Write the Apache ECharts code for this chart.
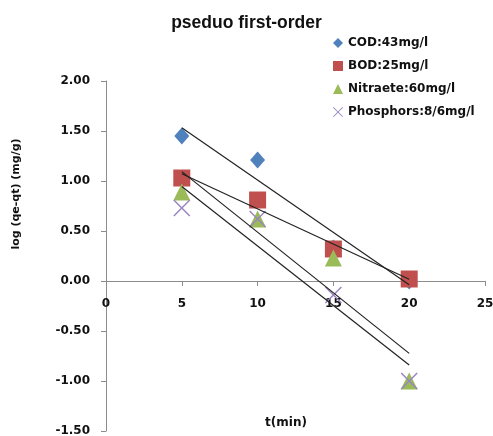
<!DOCTYPE html>
<html>
<head>
<meta charset="utf-8">
<script src="https://cdn.jsdelivr.net/npm/echarts@6/dist/echarts.min.js"></script>
<style>html,body{margin:0;padding:0;background:#fff;}#c{width:493px;height:436px;}</style>
</head>
<body>
<div id="c"></div>
<script>
var times = [5, 10, 15, 20];
var seriesNames = ['COD:43mg/l', 'BOD:25mg/l', 'Nitraete:60mg/l', 'Phosphors:8/6mg/l'];
var codValues = [1.45, 1.21, 0.33, 0.00];
var bodValues = [1.03, 0.81, 0.32, 0.02];
var nitrateValues = [0.89, 0.62, 0.23, -1.00];
var phosValues = [0.73, 0.62, -0.14, -1.00];
var xTicks = [0, 5, 10, 15, 20, 25];
var yTicks = [-1.5, -1.0, -0.5, 0, 0.5, 1.0, 1.5, 2.0];
var titleText = 'pseduo first-order';
var xAxisTitle = 't(min)';
var yAxisTitle = 'log (qe-qt) (mg/g)';

function pairs(vals) { return times.map(function (t, i) { return [t, vals[i]]; }); }
function trend(vals) {
  var n = times.length, mx = 0, my = 0;
  for (var i = 0; i < n; i++) { mx += times[i]; my += vals[i]; }
  mx /= n; my /= n;
  var sxy = 0, sxx = 0;
  for (i = 0; i < n; i++) { sxy += (times[i] - mx) * (vals[i] - my); sxx += (times[i] - mx) * (times[i] - mx); }
  var b = sxy / sxx, a = my - b * mx;
  var x0 = times[0], x1 = times[n - 1];
  return [[x0, a + b * x0], [x1, a + b * x1]];
}

var xPath = 'path://M0,1 L1,0 L8,7 L15,0 L16,1 L9,8 L16,15 L15,16 L8,9 L1,16 L0,15 L7,8 Z';
var allVals = [codValues, bodValues, nitrateValues, phosValues];
var symbols = ['diamond', 'rect', 'triangle', xPath];
var sizes = [[15, 17], 17, 17, 17];
var colors = ['#4F81BD', '#C0504D', '#9BBB59', '#9A86C0'];

var series = [];
allVals.forEach(function (v, i) {
  series.push({
    name: seriesNames[i], type: 'scatter', data: pairs(v),
    symbol: symbols[i], symbolSize: sizes[i],
    itemStyle: { color: colors[i], opacity: 1 }, z: 2 + i
  });
});
allVals.forEach(function (v, i) {
  series.push({
    name: 'trend' + i, type: 'line', data: trend(v), showSymbol: false, silent: true,
    lineStyle: { color: '#222', width: 1.2 }, z: 10
  });
});

var FONT = 'DejaVu Sans';
var chart = echarts.init(document.getElementById('c'), null, { renderer: 'canvas' });
chart.setOption({
  animation: false,
  title: {
    text: titleText, left: 'center', top: 9,
    textStyle: { fontFamily: 'Liberation Sans', fontWeight: 'bold', fontSize: 17.5, color: '#111' }
  },
  legend: {
    data: seriesNames.map(function (n) { return { name: n }; }),
    orient: 'vertical', left: 328, top: 31, itemWidth: 10, itemHeight: 10, itemGap: 9,
    textStyle: { fontFamily: FONT, fontWeight: 'bold', fontSize: 12, color: '#111', lineHeight: 14 }
  },
  grid: { left: 106, right: 8, top: 81, bottom: 5, containLabel: false, outerBoundsMode: 'none' },
  xAxis: {
    type: 'value', min: xTicks[0], max: xTicks[xTicks.length - 1], interval: 5,
    position: 'bottom', offset: -150,
    axisLine: { onZero: false, lineStyle: { color: '#8c8c8c', width: 1 } },
    axisTick: { show: true, length: 5, lineStyle: { color: '#8c8c8c' } },
    axisLabel: { margin: 17, fontFamily: FONT, fontWeight: 'bold', fontSize: 12, color: '#111' },
    splitLine: { show: false }
  },
  yAxis: {
    type: 'value', min: yTicks[0], max: yTicks[yTicks.length - 1], interval: 0.5,
    axisLine: { show: true, onZero: false, lineStyle: { color: '#8c8c8c', width: 1 } },
    axisTick: { show: true, length: 5, lineStyle: { color: '#8c8c8c' } },
    axisLabel: { margin: 16, fontFamily: FONT, fontWeight: 'bold', fontSize: 12, color: '#111',
      formatter: function (v) { return v.toFixed(2); } },
    splitLine: { show: false }
  },
  graphic: [
    { type: 'text', x: 286, y: 423, style: { text: xAxisTitle, textAlign: 'center', textVerticalAlign: 'middle',
      font: 'bold 12px "DejaVu Sans"', fill: '#111' } },
    { type: 'text', x: 16, y: 194, rotation: Math.PI / 2, style: { text: yAxisTitle, textAlign: 'center', textVerticalAlign: 'middle',
      font: 'bold 11px "DejaVu Sans"', fill: '#111' } }
  ],
  series: series
});
</script>
</body>
</html>
